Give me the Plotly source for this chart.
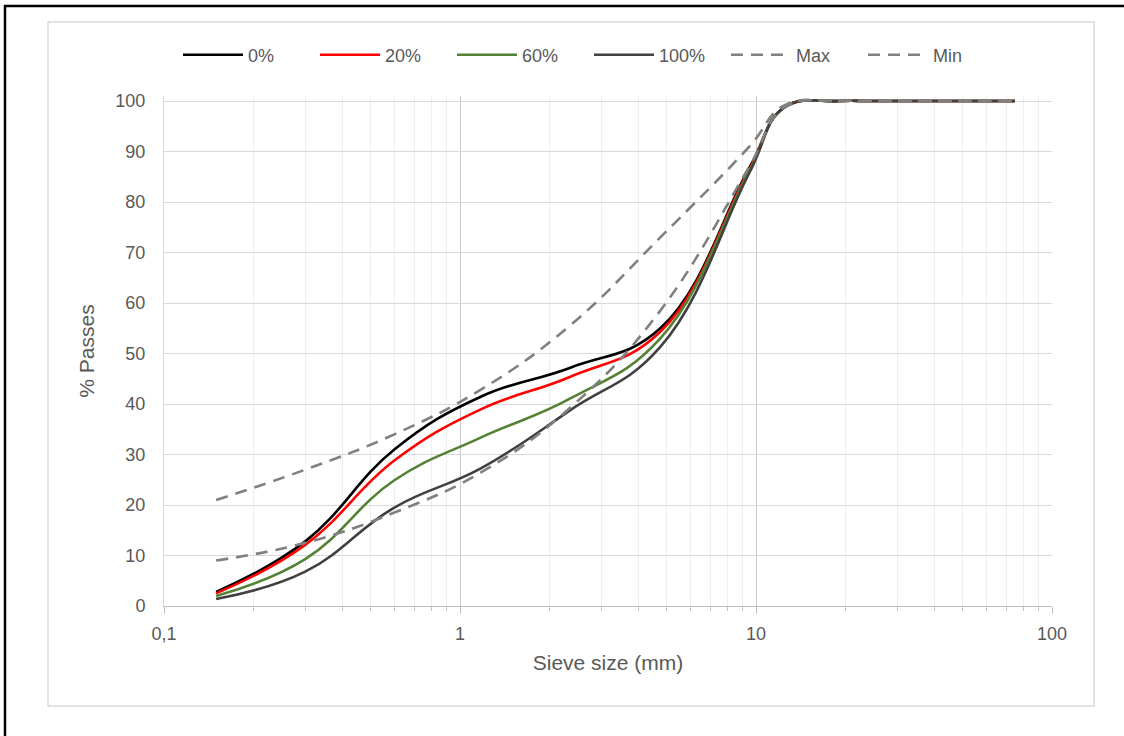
import plotly.graph_objects as go

# Sieve sizes (mm)
sizes = [0.15, 0.3, 0.6, 1.18, 2.36, 4.75, 9.5, 12.5, 19, 25, 37.5, 50, 75]

# % passing for each mix
p0 = [2.8, 12.8, 31.0, 41.5, 47.2, 55.0, 86.8, 98.8, 100, 100, 100, 100, 100]
p20 = [2.5, 12.1, 28.8, 39.0, 45.4, 54.3, 86.5, 98.8, 100, 100, 100, 100, 100]
p60 = [2.0, 9.3, 24.9, 33.4, 41.1, 53.0, 86.2, 98.8, 100, 100, 100, 100, 100]
p100 = [1.4, 6.8, 19.5, 27.3, 38.8, 51.3, 85.8, 98.8, 100, 100, 100, 100, 100]
pmax = [21.0, 27.0, 34.0, 42.9, 55.6, 73.0, 91.0, 99.2, 100, 100, 100, 100, 100]
pmin = [9.0, 12.5, 18.5, 26.5, 39.3, 58.5, 87.0, 98.8, 100, 100, 100, 100, 100]

series_names = ["0%", "20%", "60%", "100%", "Max", "Min"]

x_tickvals = [0.1, 1, 10, 100]
x_ticktext = ["0,1", "1", "10", "100"]
x_minor = [m * d for d in (0.1, 1, 10) for m in range(2, 10)]

FONT = "Liberation Sans, Arial, sans-serif"
TXT = "#595959"

styles = [
    dict(color="#000000", width=2.6, dash="solid"),
    dict(color="#FF0000", width=2.6, dash="solid"),
    dict(color="#548235", width=2.6, dash="solid"),
    dict(color="#404040", width=2.6, dash="solid"),
    dict(color="#808080", width=2.6, dash="12px,8px"),
    dict(color="#808080", width=2.6, dash="12px,8px"),
]

fig = go.Figure()
for name, ys, st in zip(series_names, [p0, p20, p60, p100, pmax, pmin], styles):
    fig.add_trace(go.Scatter(
        x=sizes, y=ys, name=name, mode="lines",
        line=dict(color=st["color"], width=st["width"], dash=st["dash"],
                  shape="spline", smoothing=1.2),
        hoverinfo="skip",
    ))

W, H = 1124, 736
L, R, T, B = 164, 72, 96, 130
pw, ph = W - L - R, H - T - B
x0px, y0px = L, H - B


def px_x(p):
    return (p - x0px) / pw


def px_y(p):
    return (y0px - p) / ph


shapes = [
    dict(type="rect", xref="paper", yref="paper",
         x0=px_x(48), x1=px_x(1094), y0=px_y(706), y1=px_y(22),
         line=dict(color="#d9d9d9", width=1.5), layer="below"),
    dict(type="line", xref="paper", yref="paper",
         x0=px_x(4), x1=px_x(1124), y0=px_y(6), y1=px_y(6),
         line=dict(color="#000000", width=2.5)),
    dict(type="line", xref="paper", yref="paper",
         x0=px_x(5), x1=px_x(5), y0=px_y(5), y1=px_y(736),
         line=dict(color="#000000", width=2.5)),
]

fig.update_layout(
    width=W, height=H,
    margin=dict(l=L, r=R, t=T, b=B),
    paper_bgcolor="white", plot_bgcolor="white",
    font=dict(family=FONT, color=TXT, size=18),
    showlegend=True,
    legend=dict(
        orientation="h", x=px_x(178), xanchor="left", y=px_y(55), yanchor="middle",
        font=dict(size=18, color=TXT), itemwidth=60,
        entrywidth=62, entrywidthmode="pixels",
        bgcolor="rgba(0,0,0,0)", traceorder="normal",
    ),
    shapes=shapes,
    xaxis=dict(
        type="log", range=[-1, 2],
        tickvals=x_tickvals, ticktext=x_ticktext,
        showgrid=True, gridcolor="#c8c8c8", gridwidth=1,
        ticks="outside", ticklen=7, tickcolor="#bfbfbf", tickwidth=1,
        showline=True, linecolor="#bfbfbf", linewidth=1,
        zeroline=False,
        ticklabelstandoff=4,
        tickfont=dict(size=18, color=TXT),
        minor=dict(tickvals=x_minor, showgrid=True, gridcolor="#eeeeee",
                   gridwidth=1, ticks="outside", ticklen=4, tickcolor="#bfbfbf"),
        title=dict(text="Sieve size (mm)", font=dict(size=21, color=TXT), standoff=12),
    ),
    yaxis=dict(
        range=[0, 101], tickvals=list(range(0, 101, 10)),
        showgrid=True, gridcolor="#d9d9d9", gridwidth=1,
        showline=True, linecolor="#d9d9d9", linewidth=1,
        zeroline=False, ticks="",
        ticklabelstandoff=14,
        tickfont=dict(size=18, color=TXT),
        title=dict(text="% Passes", font=dict(size=21, color=TXT), standoff=15),
    ),
)

fig.write_html("out.html")
